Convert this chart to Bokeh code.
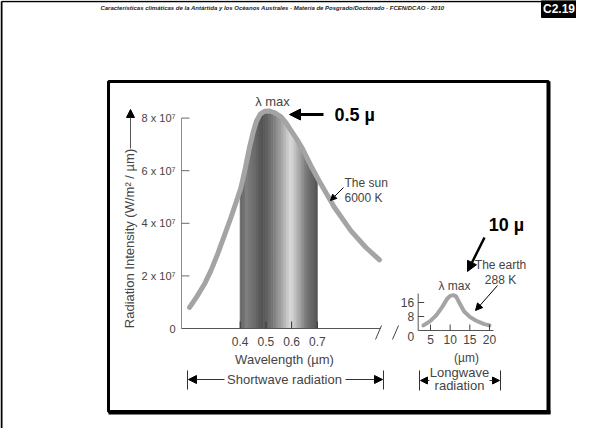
import numpy as np
from bokeh.plotting import figure
from bokeh.models import Range1d, Arrow, NormalHead
from bokeh.core.properties import value
from bokeh.embed import file_html
from bokeh.resources import INLINE

# ---------------- data ----------------
sun_wavelength_um = [0.203, 0.232, 0.261, 0.287, 0.312, 0.338, 0.364, 0.384, 0.403, 0.420, 0.436,
                     0.450, 0.463, 0.478, 0.495, 0.515, 0.535, 0.559, 0.580, 0.598, 0.620,
                     0.643, 0.675, 0.714, 0.767, 0.831, 0.889, 0.942]
sun_intensity_e7 = [0.80, 1.22, 1.69, 2.22, 2.83, 3.52, 4.22, 4.80, 5.36, 6.10, 6.88,
                    7.45, 7.88, 8.15, 8.26, 8.27, 8.20, 8.05, 7.80, 7.52, 7.20,
                    6.82, 6.19, 5.49, 4.60, 3.71, 3.08, 2.61]
sun_y_ticks = [0, 2, 4, 6, 8]
sun_y_tick_labels = ["0", "2 x 10⁷", "4 x 10⁷", "6 x 10⁷", "8 x 10⁷"]
sun_x_ticks = [0.4, 0.5, 0.6, 0.7]
sun_x_tick_labels = ["0.4", "0.5", "0.6", "0.7"]
visible_band_um = [0.4, 0.7]

earth_wavelength_um = [3.2, 5.0, 6.5, 8.0, 9.2, 10.0, 10.8, 11.5, 12.3, 13.5, 15.0, 16.5, 18.5, 20.0]
earth_intensity = [2.9, 5.5, 8.8, 13.5, 18.0, 19.8, 20.2, 19.5, 16.0, 11.0, 7.8, 5.7, 3.8, 2.9]
earth_x_ticks = [5, 10, 15, 20]
earth_x_tick_labels = ["5", "10", "15", "20"]
earth_y_ticks = [8, 16]
earth_y_tick_labels = ["8", "16"]

# stripe shading of the visible band (style)
band_grays = ["#666666", "#707070", "#7e7e7e", "#787878", "#727272", "#6c6c6c", "#646464", "#585858",
              "#545454", "#5a5a5a", "#626262", "#6c6c6c", "#767676", "#828282", "#8e8e8e", "#9a9a9a",
              "#a8a8a8", "#b8b8b8", "#c8c8c8", "#d6d6d6", "#d0d0d0", "#c0c0c0", "#b0b0b0", "#a0a0a0",
              "#8e8e8e", "#7e7e7e", "#727272", "#686868", "#606060", "#585858"]

# ---------------- layout (reference pixel geometry) ----------------
W, H = 576, 428
OFF = 8
PAGE_H = 444


def Y(v):
    return PAGE_H - v


# main chart scale
MX_REF_UM, MX_REF_PX, MX_SCALE = 0.4, 247.7, 257.0
MY_ZERO_PX, MY_SCALE = 336.0, 26.3
# inset scale
IX_REF_UM, IX_REF_PX, IX_SCALE = 5.0, 438.0, 3.933
IY_ZERO_PX, IY_SCALE = 338.0, 1.75


def mx(px):
    return MX_REF_UM + (px - MX_REF_PX) / MX_SCALE


def my(py):
    return (MY_ZERO_PX - py) / MY_SCALE


def ix(px):
    return IX_REF_UM + (px - IX_REF_PX) / IX_SCALE


def iy(py):
    return (IY_ZERO_PX - py) / IY_SCALE


p = figure(width=W, height=H, output_backend="svg", toolbar_location=None,
           x_range=Range1d(OFF, OFF + W), y_range=Range1d(PAGE_H - OFF - H, PAGE_H - OFF),
           min_border=0, x_axis_location=None, y_axis_location=None)
p.grid.visible = False
p.outline_line_color = None
p.background_fill_color = "white"
p.extra_x_ranges = {"mx": Range1d(mx(OFF), mx(OFF + W)), "ix": Range1d(ix(OFF), ix(OFF + W))}
p.extra_y_ranges = {"my": Range1d(my(OFF + H), my(OFF)), "iy": Range1d(iy(OFF + H), iy(OFF))}

FONT = value("Liberation Sans")
TXT = "#444444"
M = dict(x_range_name="mx", y_range_name="my")
I = dict(x_range_name="ix", y_range_name="iy")

# ---------------- page decorations ----------------
p.segment(x0=[9], y0=[Y(9)], x1=[9], y1=[Y(436)], line_color="black", line_width=2)
p.segment(x0=[9], y0=[Y(9)], x1=[550], y1=[Y(9)], line_color="black", line_width=1.5)
p.quad(left=[549], right=[584], top=[Y(8)], bottom=[Y(25)], fill_color="black", line_color="black")
p.text(x=[566.5], y=[Y(16.5)], text=["C2.19"], text_color="white", text_font=FONT,
       text_font_size="12px", text_font_style="bold", text_align="center", text_baseline="middle")
p.text(x=[280], y=[Y(15)], text=["Características climáticas de la Antártida y los Océanos Australes - "
                                 "Materia de Posgrado/Doctorado - FCEN/DCAO - 2010"],
       text_color="#222222", text_font=FONT, text_font_size="6px", text_font_style="bold italic",
       text_align="center", text_baseline="middle")

# inner frame
p.quad(left=[116], right=[556], top=[Y(89)], bottom=[Y(419)], fill_color=None,
       line_color="black", line_width=3)
p.segment(x0=[116, 556], y0=[Y(420), Y(89)], x1=[558, 556], y1=[Y(420), Y(421)],
          line_color="black", line_width=4)

# ---------------- main chart ----------------
n = len(band_grays)
edges = np.linspace(visible_band_um[0], visible_band_um[1], n + 1)
centers = (edges[:-1] + edges[1:]) / 2
tops = np.interp(centers, sun_wavelength_um, sun_intensity_e7) - 0.05
p.vbar(x=centers, width=edges[1] - edges[0], bottom=0, top=tops, fill_color=band_grays,
       line_color=band_grays, line_width=0.8, **M)

p.line(sun_wavelength_um, sun_intensity_e7, line_color="#a4a4a4", line_width=5,
       line_join="round", line_cap="round", **M)

ax0 = mx(189)
# y axis
p.segment(x0=[ax0], y0=[0], x1=[ax0], y1=[max(sun_y_ticks)], line_color="#8c8c8c", line_width=1, **M)
p.ray(x=[ax0] * 4, y=sun_y_ticks[1:], length=8, length_units="screen", angle=0,
      line_color="#6a6a6a", line_width=1, **M)
p.text(x=[ax0] * len(sun_y_ticks), y=sun_y_ticks, text=sun_y_tick_labels, x_offset=-6,
       text_align="right", text_baseline="middle", text_font=FONT, text_font_size="11px",
       text_color=TXT, **M)
# x axis
p.segment(x0=[ax0], y0=[0], x1=[mx(388)], y1=[0], line_color="#555555", line_width=1, **M)
p.ray(x=sun_x_ticks, y=[0] * 4, length=7, length_units="screen", angle=np.pi / 2,
      line_color="#333333", line_width=1, **M)
p.text(x=sun_x_ticks, y=[my(349)] * 4, text=sun_x_tick_labels, text_align="center",
       text_baseline="middle", text_font=FONT, text_font_size="12px", text_color=TXT, **M)

# axis titles
p.text(x=[137], y=[Y(246)], text=["Radiation Intensity (W/m² / µm)"], angle=np.pi / 2,
       text_align="center", text_baseline="middle", text_font=FONT, text_font_size="13px",
       text_color=TXT)
p.add_layout(Arrow(end=NormalHead(size=8, fill_color="black", line_color="black"),
                   x_start=138, y_start=Y(156), x_end=138, y_end=Y(117),
                   line_color="#555555", line_width=1))
p.text(x=[292], y=[Y(367)], text=["Wavelength (µm)"], text_align="center", text_baseline="middle",
       text_font=FONT, text_font_size="13px", text_color=TXT)

# break marks
p.segment(x0=[383, 400], y0=[Y(347), Y(347)], x1=[389, 406], y1=[Y(333), Y(333)],
          line_color="#444444", line_width=1)

# annotations
p.text(x=[280], y=[Y(109)], text=["λ max"], text_align="center", text_baseline="middle",
       text_font=FONT, text_font_size="13px", text_color=TXT)
p.add_layout(Arrow(end=NormalHead(size=11, fill_color="black", line_color="black"),
                   x_start=331, y_start=Y(122), x_end=297, y_end=Y(122),
                   line_color="black", line_width=3))
p.text(x=[342], y=[Y(122)], text=["0.5 µ"], text_align="left", text_baseline="middle",
       text_font=FONT, text_font_size="18px", text_font_style="bold", text_color="black")
p.text(x=[352, 352], y=[Y(190), Y(205)], text=["The sun", "6000 K"], text_align="left",
       text_baseline="middle", text_font=FONT, text_font_size="12px", text_color=TXT)
p.add_layout(Arrow(end=NormalHead(size=6, fill_color="black", line_color="black"),
                   x_start=351, y_start=Y(195), x_end=338, y_end=Y(208),
                   line_color="black", line_width=1))

# shortwave range marker
p.segment(x0=[195, 391], y0=[Y(378), Y(378)], x1=[195, 391], y1=[Y(397), Y(397)],
          line_color="#333333", line_width=1)
p.add_layout(Arrow(end=NormalHead(size=8, fill_color="black", line_color="black"),
                   x_start=232, y_start=Y(387), x_end=196, y_end=Y(387), line_color="#333333", line_width=1))
p.add_layout(Arrow(end=NormalHead(size=8, fill_color="black", line_color="black"),
                   x_start=353, y_start=Y(387), x_end=390, y_end=Y(387), line_color="#333333", line_width=1))
p.text(x=[292], y=[Y(387)], text=["Shortwave radiation"], text_align="center", text_baseline="middle",
       text_font=FONT, text_font_size="13px", text_color=TXT)

# ---------------- earth inset ----------------
ix0 = ix(425.7)
p.line(earth_wavelength_um, earth_intensity, line_color="#a4a4a4", line_width=4,
       line_join="round", line_cap="round", **I)
p.segment(x0=[ix0], y0=[0], x1=[ix0], y1=[iy(301)], line_color="#555555", line_width=1, **I)
p.segment(x0=[ix0], y0=[0], x1=[ix(501)], y1=[0], line_color="#555555", line_width=1, **I)
p.ray(x=[ix0] * 2, y=earth_y_ticks, length=6, length_units="screen", angle=0,
      line_color="#444444", line_width=1, **I)
p.ray(x=earth_x_ticks, y=[0] * 4, length=6, length_units="screen", angle=np.pi / 2,
      line_color="#444444", line_width=1, **I)
p.text(x=[ix0] * 2, y=earth_y_ticks, text=earth_y_tick_labels, x_offset=-4, text_align="right",
       text_baseline="middle", text_font=FONT, text_font_size="12px", text_color=TXT, **I)
p.text(x=[ix0], y=[iy(344)], text=["0"], x_offset=-4, text_align="right",
       text_baseline="middle", text_font=FONT, text_font_size="12px", text_color=TXT, **I)
p.text(x=earth_x_ticks, y=[iy(347)] * 4, text=earth_x_tick_labels, text_align="center",
       text_baseline="middle", text_font=FONT, text_font_size="12px", text_color=TXT, **I)
p.text(x=[474], y=[Y(365)], text=["(µm)"], text_align="center", text_baseline="middle",
       text_font=FONT, text_font_size="12px", text_color=TXT)
p.text(x=[462], y=[Y(293)], text=["λ max"], text_align="center", text_baseline="middle",
       text_font=FONT, text_font_size="12px", text_color=TXT)
p.text(x=[508, 508], y=[Y(272), Y(287)], text=["The earth", "288 K"], text_align="center",
       text_baseline="middle", text_font=FONT, text_font_size="12px", text_color=TXT)
p.add_layout(Arrow(end=NormalHead(size=7, fill_color="black", line_color="black"),
                   x_start=505, y_start=Y(293), x_end=483, y_end=Y(318),
                   line_color="black", line_width=1))
p.text(x=[514], y=[Y(232)], text=["10 µ"], text_align="center", text_baseline="middle",
       text_font=FONT, text_font_size="18px", text_font_style="bold", text_color="black")
p.add_layout(Arrow(end=NormalHead(size=10, fill_color="black", line_color="black"),
                   x_start=492, y_start=Y(245), x_end=475, y_end=Y(279),
                   line_color="black", line_width=2.5))

# longwave range marker
p.segment(x0=[427, 508], y0=[Y(378), Y(378)], x1=[427, 508], y1=[Y(398), Y(398)],
          line_color="#333333", line_width=1)
p.add_layout(Arrow(end=NormalHead(size=7, fill_color="black", line_color="black"),
                   x_start=437, y_start=Y(388), x_end=428, y_end=Y(388), line_color="#333333", line_width=1))
p.add_layout(Arrow(end=NormalHead(size=7, fill_color="black", line_color="black"),
                   x_start=497, y_start=Y(388), x_end=507, y_end=Y(388), line_color="#333333", line_width=1))
p.text(x=[467, 467], y=[Y(380), Y(393)], text=["Longwave", "radiation"], text_align="center",
       text_baseline="middle", text_font=FONT, text_font_size="13px", text_color=TXT)

open("out.html", "w").write(file_html(p, INLINE))
